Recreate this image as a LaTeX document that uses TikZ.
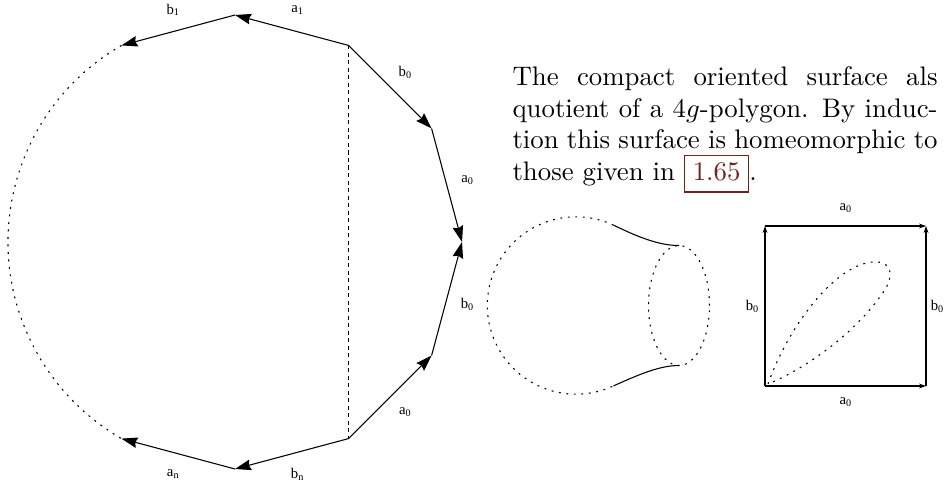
\documentclass[tikz,border=0pt]{standalone}
\usepackage{fontspec}
\usepackage{xcolor}
\usetikzlibrary{arrows.meta, calc}
\newfontfamily\figfont{Liberation Serif}
\definecolor{linkred}{RGB}{118,32,32}
\newcommand{\lbl}[2]{{\fontsize{5.5}{6}\figfont #1\raisebox{-0.7pt}{\fontsize{3.8}{4}\selectfont #2}}}
\newcommand{\refbox}[1]{{\setlength{\fboxsep}{0.6pt}\setlength{\fboxrule}{0.5pt}\fcolorbox{linkred}{white}{\hspace{2.2pt}\strut\textcolor{linkred}{#1}\hspace{2.2pt}}}}

\begin{document}
\begin{tikzpicture}[
    x=0.3731pt, y=0.3731pt,
    poly/.style={-{Stealth[length=6pt, width=4pt, inset=0.7pt]}},
    sqside/.style={-{Stealth[length=2.6pt, width=1.8pt]}},
    dotline/.style={dash pattern=on 0.7pt off 2.1pt},
    cut/.style={dash pattern=on 1.5pt off 1.3pt},
    lab/.style={inner sep=0pt},
    txtline/.style={anchor=base west, inner sep=0pt},
]
\useasboundingbox (0,0) rectangle (944,487);
\clip (0,0) rectangle (944,487);

% the 4g-polygon
\coordinate (pc) at (235,245);
\foreach \i in {0,...,11}
    \coordinate (v\i) at ($(pc)+(\i*30:227)$);

\draw[poly] (v2) -- node[lab, shift={(75:21)}] {\lbl{a}{1}} (v3);
\draw[poly] (v3) -- node[lab, shift={(105:21)}] {\lbl{b}{1}} (v4);
\draw[poly] (v2) -- node[lab, shift={(45:21)}] {\lbl{b}{0}} (v1);
\draw[poly] (v1) -- node[lab, shift={(15:21)}] {\lbl{a}{0}} (v0);
\draw[poly] (v11) -- node[lab, shift={(-15:21)}] {\lbl{b}{0}} (v0);
\draw[poly] (v10) -- node[lab, shift={(-45:21)}] {\lbl{a}{0}} (v11);
\draw[poly] (v10) -- node[lab, shift={(-75:21)}] {\lbl{b}{n}} (v9);
\draw[poly] (v9) -- node[lab, shift={(-105:21)}] {\lbl{a}{n}} (v8);
\draw[cut] (v2) -- (v10);
\draw[dotline] (v4) arc[start angle=120, end angle=240, radius=227];

% text
\node[txtline] (line1) at (512,402) {\makebox[158.6pt][s]{The compact oriented surface als}};
\node[txtline] (line2) at (512,370) {\makebox[158.6pt][s]{quotient of a $4g$-polygon. By induc-}};
\node[txtline] (line3) at (512,339) {\makebox[158.6pt][s]{tion this surface is homeomorphic to}};
\node[txtline] (line4) at (512,307) {those given in \refbox{1.65}.};

% handle
\coordinate (hc) at (576,181.5);
\coordinate (h1) at ($(hc)+(65:88.7)$);
\coordinate (h2) at ($(hc)+(295:88.7)$);
\coordinate (ec) at (679,181.5);
\coordinate (e1) at (679,241.5);
\coordinate (e2) at (679,121.5);
\draw[dotline] (h1) arc[start angle=65, end angle=295, radius=88.7];
\draw (h1) .. controls (640,249) and (660,241.5) .. (e1);
\draw (h2) .. controls (640,113) and (660,121.5) .. (e2);
\draw[dotline] (ec) ellipse[x radius=30.5, y radius=60];

% square
\coordinate (sqSW) at (765,101);
\coordinate (sqNW) at (765,261);
\coordinate (sqNE) at (926,261);
\coordinate (sqSE) at (926,101);
\draw[sqside] (sqNW) -- node[lab, shift={(0,18)}] {\lbl{a}{0}} (sqNE);
\draw[sqside] (sqSW) -- node[lab, shift={(0,-16)}] {\lbl{a}{0}} (sqSE);
\draw[sqside] (sqSW) -- node[lab, shift={(-13,0)}] {\lbl{b}{0}} (sqNW);
\draw[sqside] (sqSE) -- node[lab, shift={(11,0)}] {\lbl{b}{0}} (sqNE);

\coordinate (t0) at (768,103);
\draw[dotline] (t0) .. controls (790,165) and (840,228) .. (878,225)
    .. controls (893,223) and (892,210) .. (886,199)
    .. controls (858,155) and (805,118) .. (t0);

\end{tikzpicture}
\end{document}
